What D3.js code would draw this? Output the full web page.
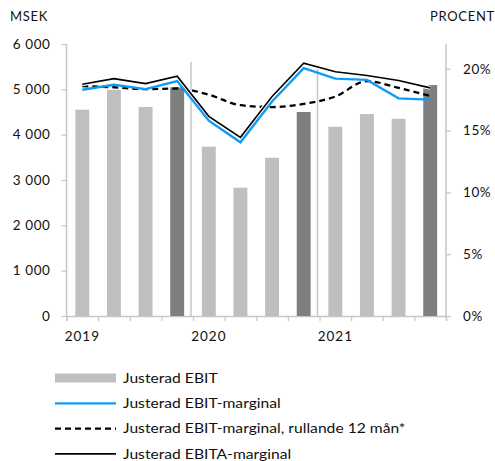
<!DOCTYPE html>
<html>
<head>
<meta charset="utf-8">
<script src="https://cdn.jsdelivr.net/npm/d3@7"></script>
<style>
  body { margin: 0; background: #fff; }
  svg text { font-family: Lato, "Liberation Sans", sans-serif; fill: #111; }
</style>
</head>
<body>
<div id="chart"></div>
<script>
// Quarters Q1 2019 - Q4 2021
const quarters = ["Q1-19","Q2-19","Q3-19","Q4-19","Q1-20","Q2-20","Q3-20","Q4-20","Q1-21","Q2-21","Q3-21","Q4-21"];
const yearLabels = [{ q: "Q1-19", label: "2019" }, { q: "Q1-20", label: "2020" }, { q: "Q1-21", label: "2021" }];

// Justerad EBIT, MSEK
const ebit = [4550, 4990, 4610, 5045, 3735, 2830, 3490, 4500, 4175, 4455, 4350, 5095];
// Justerad EBIT-marginal, %
const ebitMargin = [18.3, 18.7, 18.35, 19.0, 15.8, 14.05, 17.35, 20.05, 19.2, 19.1, 17.6, 17.5];
// Justerad EBIT-marginal, rullande 12 mån, %
const ebitRolling = [18.6, 18.5, 18.35, 18.4, 17.9, 17.05, 16.9, 17.15, 17.75, 19.0, 18.45, 17.8];
// Justerad EBITA-marginal, %
const ebitaMargin = [18.75, 19.2, 18.8, 19.4, 16.15, 14.45, 17.75, 20.45, 19.75, 19.45, 19.05, 18.45];

const leftTicks = [0, 1000, 2000, 3000, 4000, 5000, 6000];
const rightTicks = [0, 5, 10, 15, 20];

const width = 495, height = 461;
const svg = d3.select("#chart")
    .append("svg")
    .attr("width", width)
    .attr("height", height);

const axisColor = "#c6c6c6";
const plotLeft = 66.5, plotRight = 446, plotTop = 44, plotBottom = 316;

// Scales
const x = d3.scaleBand().domain(quarters).range([plotLeft, plotRight]).padding(0);
const yLeft = d3.scaleLinear().domain([0, 6000]).range([plotBottom, plotTop]);
const yRight = d3.scaleLinear().domain([0, 22]).range([plotBottom, plotTop]);
const barW = x.bandwidth() * 0.44;
const cx = q => x(q) + x.bandwidth() / 2;

// Axis titles
svg.append("text").attr("x", 10).attr("y", 21)
    .style("font-size", "13px").style("letter-spacing", "0.7px").text("MSEK");
svg.append("text").attr("x", 430).attr("y", 21)
    .style("font-size", "13px").style("letter-spacing", "0.7px").text("PROCENT");

// Left axis
const leftAxis = svg.append("g")
    .attr("transform", `translate(${plotLeft},0)`)
    .call(d3.axisLeft(yLeft).tickValues(leftTicks).tickSize(5).tickPadding(11)
        .tickFormat(d => d3.format(",")(d).replace(",", " ")));

// Right axis
const rightAxis = svg.append("g")
    .attr("transform", `translate(${plotRight},0)`)
    .call(d3.axisRight(yRight).tickValues(rightTicks).tickSize(5).tickPadding(12)
        .tickFormat(d => d + "%"));

// Bottom axis: ticks on quarter boundaries
const bottomAxis = svg.append("g")
    .attr("transform", `translate(0,${plotBottom})`)
    .call(d3.axisBottom(d3.scaleLinear().domain([0, 12]).range([plotLeft, plotRight]))
        .tickValues(d3.range(0, 13)).tickSize(5).tickFormat(""));

[leftAxis, rightAxis, bottomAxis].forEach(g => {
    g.select(".domain").attr("stroke", axisColor).attr("stroke-width", 1.5);
    g.selectAll(".tick line").attr("stroke", axisColor).attr("stroke-width", 1.2);
    g.selectAll(".tick text").style("font-size", "13.5px").style("letter-spacing", "0.6px").attr("fill", "#111");
});
leftAxis.select(".domain").attr("d", `M0,${plotTop}V${plotBottom}`);
rightAxis.select(".domain").attr("d", `M0,${plotTop}V${plotBottom}`);

// Year labels
svg.selectAll(".year")
    .data(yearLabels)
    .join("text")
    .attr("class", "year")
    .attr("x", d => cx(d.q))
    .attr("y", 341)
    .attr("text-anchor", "middle")
    .style("font-size", "13.5px")
    .style("letter-spacing", "1px")
    .text(d => d.label);

// Bars
svg.selectAll(".bar")
    .data(ebit)
    .join("rect")
    .attr("class", "bar")
    .attr("x", (d, i) => cx(quarters[i]) - barW / 2)
    .attr("width", barW)
    .attr("y", d => yLeft(d))
    .attr("height", d => plotBottom - yLeft(d))
    .attr("fill", (d, i) => quarters[i].startsWith("Q4") ? "#7f7f7f" : "#bfbfbf");

// Year separators
svg.selectAll(".sep")
    .data(["Q1-20", "Q1-21"])
    .join("line")
    .attr("class", "sep")
    .attr("x1", d => x(d) - 2)
    .attr("x2", d => x(d) - 2)
    .attr("y1", (d, i) => i === 0 ? 62 : 65)
    .attr("y2", plotBottom)
    .attr("stroke", axisColor)
    .attr("stroke-width", 1.5);

// Lines
const line = d3.line().x((d, i) => cx(quarters[i])).y(d => yRight(d));
const smooth = d3.line().x((d, i) => cx(quarters[i])).y(d => yRight(d)).curve(d3.curveMonotoneX);

svg.append("path").datum(ebitRolling)
    .attr("d", smooth).attr("fill", "none")
    .attr("stroke", "#000").attr("stroke-width", 2.3).attr("stroke-dasharray", "6,4");

svg.append("path").datum(ebitaMargin)
    .attr("d", line).attr("fill", "none")
    .attr("stroke", "#fff").attr("stroke-width", 4);
svg.append("path").datum(ebitaMargin)
    .attr("d", line).attr("fill", "none")
    .attr("stroke", "#000").attr("stroke-width", 1.6);

svg.append("path").datum(ebitMargin)
    .attr("d", line).attr("fill", "none")
    .attr("stroke", "#0f9cf5").attr("stroke-width", 2.4);

// Legend
const legend = [
    { label: "Justerad EBIT", type: "bar" },
    { label: "Justerad EBIT-marginal", type: "blue" },
    { label: "Justerad EBIT-marginal, rullande 12 mån*", type: "dash" },
    { label: "Justerad EBITA-marginal", type: "black" }
];
const lg = svg.selectAll(".legend")
    .data(legend)
    .join("g")
    .attr("class", "legend")
    .attr("transform", (d, i) => `translate(55,${378 + i * 25.3})`);

lg.filter(d => d.type === "bar").append("rect")
    .attr("x", 0).attr("y", -4.5).attr("width", 61).attr("height", 9).attr("fill", "#bfbfbf");
lg.filter(d => d.type !== "bar").append("line")
    .attr("x1", 0).attr("x2", 61).attr("y1", 0).attr("y2", 0)
    .attr("stroke", d => d.type === "blue" ? "#0f9cf5" : "#000")
    .attr("stroke-width", d => d.type === "black" ? 1.6 : 2.3)
    .attr("stroke-dasharray", d => d.type === "dash" ? "6,4" : null);

// legend text is drawn a bit wider, like the original
lg.append("text")
    .attr("transform", "translate(68,0) scale(1.16,1)")
    .attr("dy", "0.35em")
    .style("font-size", "13.5px")
    .text(d => d.label);
</script>
</body>
</html>
